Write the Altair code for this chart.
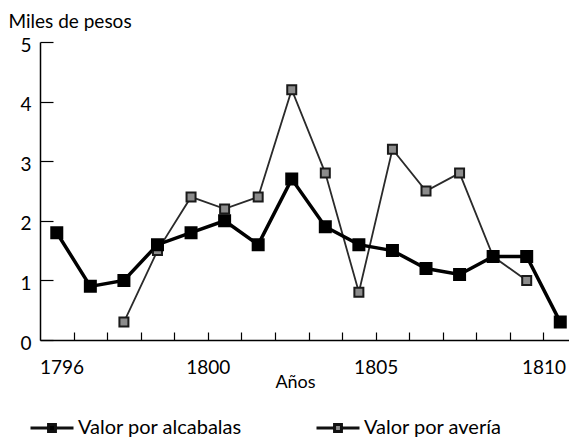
import altair as alt
import pandas as pd

# Centro de cada periodo sobre el eje de años
periodos = [1795.5, 1796.5, 1797.5, 1798.5, 1799.5, 1800.5, 1801.5, 1802.5,
            1803.5, 1804.5, 1805.5, 1806.5, 1807.5, 1808.5, 1809.5, 1810.5]
alcabalas = [1.8, 0.9, 1.0, 1.6, 1.8, 2.0, 1.6, 2.7, 1.9, 1.6, 1.5, 1.2, 1.1, 1.4, 1.4, 0.3]
averia = [None, None, 0.3, 1.5, 2.4, 2.2, 2.4, 4.2, 2.8, 0.8, 3.2, 2.5, 2.8, 1.4, 1.0, None]

series = ["Valor por alcabalas", "Valor por avería"]
ticks_x = list(range(1796, 1811))
etiquetas_x = [1796, 1800, 1805, 1810]
ticks_y = [0, 1, 2, 3, 4, 5]

rows = []
for p, v in zip(periodos, averia):
    if v is not None:
        rows.append({"anio": p, "valor": v, "serie": series[1]})
for p, v in zip(periodos, alcabalas):
    rows.append({"anio": p, "valor": v, "serie": series[0]})
df = pd.DataFrame(rows)

FONT = "Lato"
label_expr = "indexof([" + ",".join(str(e) for e in etiquetas_x) + "], datum.value) >= 0 ? '' + datum.value : ''"

x_enc = alt.X(
    "anio:Q",
    title="Años",
    scale=alt.Scale(domain=[1795, 1810.76], nice=False, zero=False),
    axis=alt.Axis(
        values=ticks_x,
        labelExpr=label_expr,
        labelOverlap=False,
        labelFlush=False,
        tickSize={"expr": "-8"},
        labelPadding=26,
        labelFontSize=19,
        labelOffset={"condition": {"test": "datum.value == 1796", "value": -12}, "value": 0},
        titleFontSize=18,
        titleX=255,
        titleY=47,
        titleAlign="center",
        titleBaseline="alphabetic",
    ),
)
y_enc = alt.Y(
    "valor:Q",
    title="Miles de pesos",
    scale=alt.Scale(domain=[0, 5], nice=False),
    axis=alt.Axis(
        values=ticks_y,
        tickSize={"expr": "-13"},
        labelPadding=22,
        labelFontSize=19,
        labelOffset=3,
        labelBaseline="middle",
        titleAngle=0,
        titleAlign="left",
        titleBaseline="alphabetic",
        titleX=-32,
        titleY=-15,
        titleFontSize=19,
    ),
)

base = alt.Chart(df).encode(x=x_enc, y=y_enc)
alc = base.transform_filter(alt.datum.serie == series[0])
ave = base.transform_filter(alt.datum.serie == series[1])

leg = alt.Legend(
    title=None,
    orient="none",
    legendX=-11,
    legendY=363,
    direction="horizontal",
    columns=2,
    columnPadding=67,
    symbolType="M-1,0H-0.16M0.16,0H1M-0.16,-0.16H0.16V0.16H-0.16Z",
    symbolSize=1849,
    symbolStrokeWidth=3,
    symbolStrokeColor="#111111",
    symbolOpacity=1,
    labelFont=FONT,
    labelFontSize=20,
    labelColor="black",
    labelOffset=3,
    labelLimit=300,
)
fill_enc = alt.Fill("serie:N", scale=alt.Scale(domain=series, range=["#000000", "#8c8c8c"]), legend=leg)

line_ave = ave.mark_line(color="#2a2a2a", strokeWidth=1.8)
line_alc = alc.mark_line(color="#000000", strokeWidth=3.5)
pts_ave = ave.mark_point(shape="square", filled=True, size=81, stroke="#1a1a1a", opacity=1).encode(fill=fill_enc)
pts_alc = alc.mark_point(shape="square", filled=True, size=121, stroke="#000000", opacity=1).encode(fill=fill_enc)

chart = (
    alt.layer(line_ave, line_alc, pts_ave, pts_alc)
    .properties(
        width=529,
        height=298,
        autosize=alt.AutoSizeParams(type="none"),
        padding={"left": 32, "top": 34, "right": 0, "bottom": 98},
        background="white",
    )
    .configure_view(stroke=None)
    .configure_axis(
        grid=False,
        domainColor="black",
        domainWidth=1.5,
        tickColor="black",
        tickWidth=1.2,
        labelColor="black",
        titleColor="black",
        labelFont=FONT,
        titleFont=FONT,
        titleFontWeight="normal",
    )
)

chart.save("out.html", embed_options={"renderer": "svg", "actions": False})
